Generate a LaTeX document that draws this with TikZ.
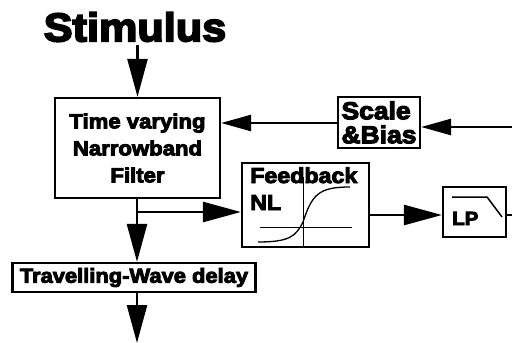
\documentclass[tikz,border=0pt]{standalone}
\usepackage{fontspec}
\newfontfamily\blk{Liberation Sans}[FakeStretch=1.08,FakeBold=4.5]
\usetikzlibrary{arrows.meta}
\begin{document}
\begin{tikzpicture}[
        x=1pt, y=-1pt,
        every node/.style={font=\blk\bfseries, inner sep=0pt},
        blockbox/.style={draw, line width=2.2pt, rectangle},
        big/.style={-{Triangle[length=38pt,width=20pt]}, line width=2.5pt},
        small/.style={-{Triangle[length=30pt,width=16pt]}, line width=2.5pt},
    ]
    \useasboundingbox (0,0) rectangle (512,343);

    \node (stim) at (135,27) {\fontsize{40}{42}\selectfont Stimulus};
    \node[blockbox, minimum width=165pt, minimum height=100pt, align=center,
        font=\blk\bfseries\fontsize{20.5}{27}\selectfont] (filt) at (137.5,148)
        {Time varying\\Narrowband\\Filter};
    \node[blockbox, minimum width=82pt, minimum height=51pt, align=left,
        font=\blk\bfseries\fontsize{24.5}{24}\selectfont] (scale) at (379,122.5)
        {Scale\\\&Bias};
    \node[blockbox, minimum width=127pt, minimum height=84pt] (fb) at (305.5,205) {};
    \node[blockbox, minimum width=63pt, minimum height=50pt] (lp) at (474.5,212) {};
    \node[blockbox, minimum width=243pt, minimum height=29pt,
        font=\blk\bfseries\fontsize{20.3}{22}\selectfont] (tw) at (134,277.5)
        {Travelling-Wave delay};

    % texts inside feedback and lowpass
    \node[anchor=base west, font=\blk\bfseries\fontsize{21.5}{22}\selectfont] (fbtxt) at (250,183) {Feedback};
    \node[anchor=base west, font=\blk\bfseries\fontsize{21.5}{22}\selectfont] (nltxt) at (250,210) {NL};
    \node[anchor=base west, font=\blk\bfseries\fontsize{19}{20}\selectfont] (lptxt) at (452,225) {LP};

    % sigmoid
    \draw[line width=1pt] (260,227) -- (352,227);
    \draw[line width=1pt] (303,177) -- (303,247);
    \draw[line width=1.3pt] (258,242) .. controls (290,242) and (296,236) .. (303,222)
        .. controls (312,195) and (318,187) .. (350,187);
    % lowpass symbol
    \draw[line width=1.5pt] (452,197) -- (487,197) -- (502,217);

    \coordinate (src) at (512,127);
    \coordinate (junc) at (137,212);
    \coordinate (out) at (512,215);
    \coordinate (down) at (137,343);

    \draw[big] (stim.south -| filt.north) ++(0,3) -- (filt.north);
    \draw[small] (src) -- (src -| scale.east);
    \draw[small] (scale.west |- 0,123) -- (filt.east |- 0,123);
    \draw[big] (filt.south -| junc) -- (tw.north -| junc);
    \draw[big] (junc) -- (fb.west |- junc);
    \draw[big] (fb.east |- out) -- (lp.west |- out);
    \draw[line width=2.5pt] (lp.east |- out) -- (out);
    \draw[big] (tw.south -| down) -- (down);

    \end{tikzpicture}
\end{document}
